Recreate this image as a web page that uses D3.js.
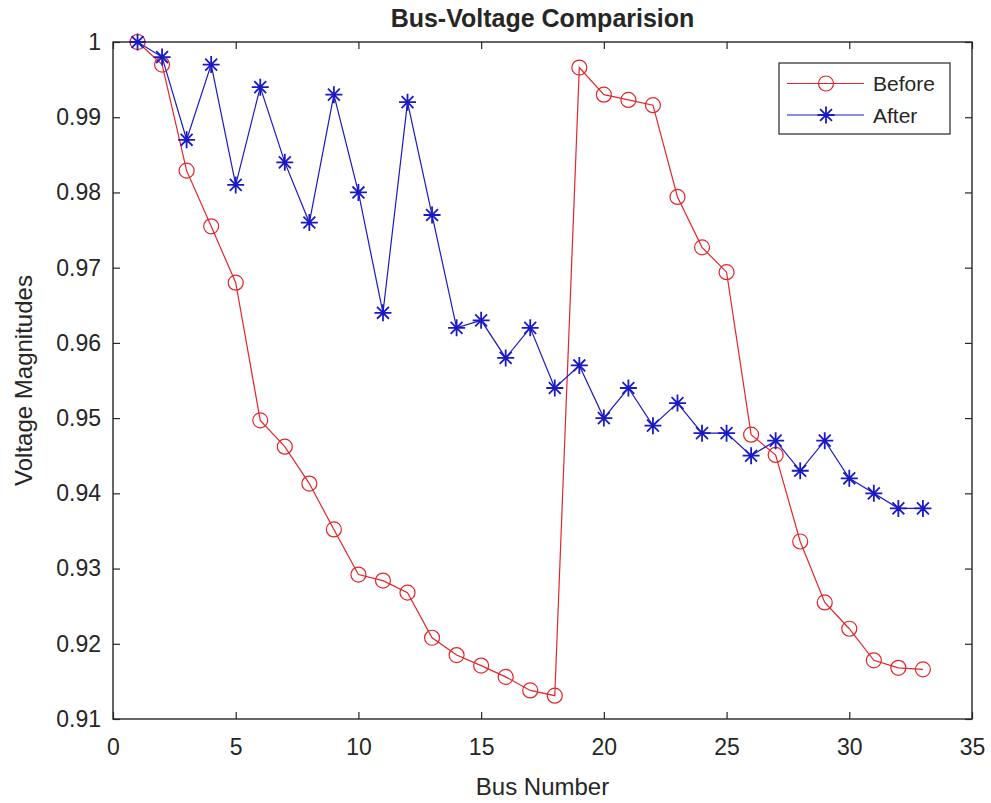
<!DOCTYPE html>
<html><head><meta charset="utf-8">
<script src="https://cdn.jsdelivr.net/npm/d3@7"></script>
<style>body{margin:0;background:#fff}svg{display:block}text{font-family:"Liberation Sans",Arial,sans-serif;fill:#262626}</style>
</head><body>
<script>
const buses = d3.range(1, 34);
const before = [1.0000,0.9970,0.9829,0.9755,0.9680,0.9497,0.9462,0.9413,0.9352,0.9292,0.9284,0.9268,0.9208,0.9185,0.9171,0.9156,0.9138,0.9131,0.9966,0.9930,0.9923,0.9916,0.9794,0.9727,0.9694,0.9478,0.9451,0.9336,0.9255,0.9220,0.9178,0.9168,0.9166];
const after  = [1.000,0.998,0.987,0.997,0.981,0.994,0.984,0.976,0.993,0.980,0.964,0.992,0.977,0.962,0.963,0.958,0.962,0.954,0.957,0.950,0.954,0.949,0.952,0.948,0.948,0.945,0.947,0.943,0.947,0.942,0.940,0.938,0.938];
const xTicks = [0,5,10,15,20,25,30,35];
const yTicks = [0.91,0.92,0.93,0.94,0.95,0.96,0.97,0.98,0.99,1];
const seriesNames = ["Before","After"];

const W=991,H=803, L=113, R=972, T=42, B=719;
const RED="#e3262b", BLUE="#1a1ac4", AX="#262626";
const svg=d3.select("body").append("svg").attr("width",W).attr("height",H);
const x=d3.scaleLinear().domain([0,35]).range([L,R]);
const y=d3.scaleLinear().domain([0.91,1]).range([B,T]);

// axes box with inward ticks
const fmt=d=>d===1?"1":d3.format(".2f")(d);
const gx=svg.append("g").attr("transform",`translate(0,${B})`).call(d3.axisBottom(x).tickValues(xTicks).tickSizeInner(-7).tickSizeOuter(0).tickPadding(20));
const gxt=svg.append("g").attr("transform",`translate(0,${T})`).call(d3.axisTop(x).tickValues(xTicks).tickSizeInner(-7).tickSizeOuter(0).tickFormat(""));
const gy=svg.append("g").attr("transform",`translate(${L},0)`).call(d3.axisLeft(y).tickValues(yTicks).tickFormat(fmt).tickSizeInner(-7).tickSizeOuter(0).tickPadding(12));
const gyr=svg.append("g").attr("transform",`translate(${R},0)`).call(d3.axisRight(y).tickValues(yTicks).tickSizeInner(-7).tickSizeOuter(0).tickFormat(""));
[gx,gxt,gy,gyr].forEach(g=>{g.selectAll("path.domain").remove();g.selectAll("line").attr("stroke",AX).attr("stroke-width",1.2);g.selectAll("text").attr("font-size",23).attr("fill",AX).style("font-family","'Liberation Sans',Arial,sans-serif");});
gx.selectAll("text").attr("dy","0.71em");
svg.append("rect").attr("x",L).attr("y",T).attr("width",R-L).attr("height",B-T).attr("fill","none").attr("stroke",AX).attr("stroke-width",1.4);

const line=d3.line().x((d,i)=>x(buses[i])).y(d=>y(d));
svg.append("path").datum(before).attr("d",line).attr("fill","none").attr("stroke",RED).attr("stroke-width",1.2);
svg.append("path").datum(after).attr("d",line).attr("fill","none").attr("stroke",BLUE).attr("stroke-width",1.2);

svg.append("g").selectAll("circle").data(before).join("circle")
  .attr("cx",(d,i)=>x(buses[i])).attr("cy",d=>y(d)).attr("r",7.5)
  .attr("fill","none").attr("stroke",RED).attr("stroke-width",1.2);

function star(g,cx,cy,s){
  const p=`M${cx-s},${cy}L${cx+s},${cy}M${cx},${cy-s}L${cx},${cy+s}M${cx-s*0.7},${cy-s*0.7}L${cx+s*0.7},${cy+s*0.7}M${cx-s*0.7},${cy+s*0.7}L${cx+s*0.7},${cy-s*0.7}`;
  g.append("path").attr("d",p).attr("stroke",BLUE).attr("stroke-width",1.8).attr("fill","none");
}
const gs=svg.append("g");
after.forEach((d,i)=>star(gs,x(buses[i]),y(d),8.5));

// legend
const lg=svg.append("g");
lg.append("rect").attr("x",779).attr("y",63).attr("width",171).attr("height",71).attr("fill","#fff").attr("stroke",AX).attr("stroke-width",1.2);
lg.append("line").attr("x1",787).attr("x2",864).attr("y1",83.5).attr("y2",83.5).attr("stroke",RED).attr("stroke-width",1.2);
lg.append("circle").attr("cx",826).attr("cy",83.5).attr("r",7.5).attr("fill","none").attr("stroke",RED).attr("stroke-width",1.2);
lg.append("line").attr("x1",787).attr("x2",864).attr("y1",115).attr("y2",115).attr("stroke",BLUE).attr("stroke-width",1.2);
star(lg,826,115,8.5);
lg.append("text").attr("x",873).attr("y",83.5).attr("dy","0.36em").attr("font-size",21).text(seriesNames[0]);
lg.append("text").attr("x",873).attr("y",115).attr("dy","0.36em").attr("font-size",21).text(seriesNames[1]);

// titles
svg.append("text").attr("x",(L+R)/2).attr("y",27).attr("text-anchor","middle").attr("font-size",25).attr("font-weight","bold").attr("fill","#000").text("Bus-Voltage Comparision");
svg.append("text").attr("x",(L+R)/2).attr("y",795).attr("text-anchor","middle").attr("font-size",24).text("Bus Number");
svg.append("text").attr("transform",`translate(32,${(T+B)/2}) rotate(-90)`).attr("text-anchor","middle").attr("font-size",24).text("Voltage Magnitudes");
</script>
</body></html>
